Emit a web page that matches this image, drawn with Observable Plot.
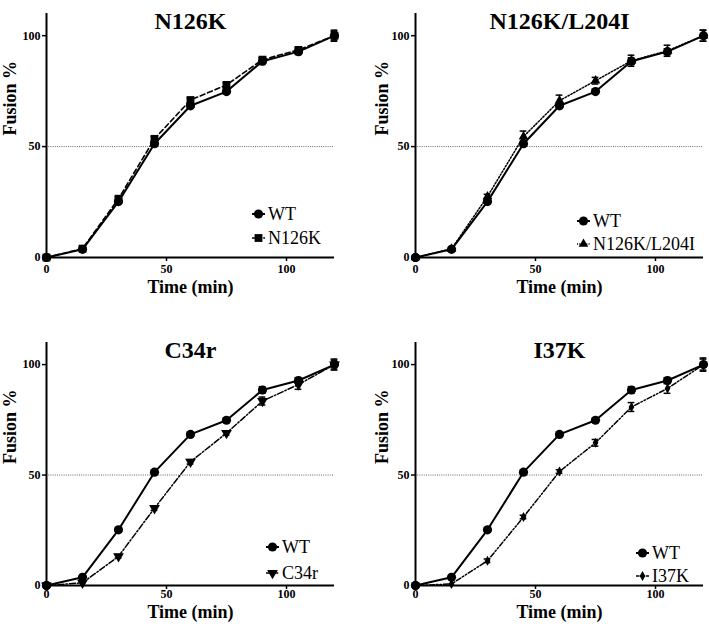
<!DOCTYPE html>
<html>
<head>
<meta charset="utf-8">
<script src="https://cdn.jsdelivr.net/npm/d3@7"></script>
<script src="https://cdn.jsdelivr.net/npm/@observablehq/plot@0.6"></script>
<style>
  body { margin: 0; background: #fff; }
  #wrap { position: relative; width: 709px; height: 631px; background: #fff; font-family: 'Liberation Serif', 'Tinos', 'Times New Roman', 'DejaVu Serif', serif; }
  .panel { position: absolute; font-family: 'Liberation Serif', 'Tinos', 'Times New Roman', 'DejaVu Serif', serif; }
  .panel text { font-family: 'Liberation Serif', 'Tinos', 'Times New Roman', 'DejaVu Serif', serif; }
  .lrow { position: absolute; display: flex; align-items: center; font-size: 18px; line-height: 20px; color: #000; white-space: nowrap; font-family: 'Liberation Serif', 'Tinos', 'Times New Roman', 'DejaVu Serif', serif; }
  .lrow svg { display: block; margin-right: 3px; }
</style>
</head>
<body>
<div id="wrap"></div>
<script>
// ---- data ----
const times = [0, 15, 30, 45, 60, 75, 90, 105, 120];
const wtValues = [0, 3.7, 25.2, 51.3, 68.4, 74.8, 88.5, 92.8, 100];
const wtErrors = [0, 0.4, 0.8, 1, 1, 1, 1.5, 1.3, 2.5];
const n126kValues = [0, 4, 26.5, 53.5, 71, 77.8, 89.2, 93.6, 100];
const n126kErrors = [0, 0.4, 0.8, 1, 1, 1, 1, 1, 2];
const n126kL204iValues = [0, 3.9, 27.5, 54.5, 70.7, 79.7, 88.7, 93.2, 100];
const n126kL204iErrors = [0, 0.4, 1, 2.5, 2.5, 1.5, 2.5, 2.5, 2.5];
const c34rValues = [0, 1.2, 13.2, 35, 56, 69, 83.5, 91, 100];
const c34rErrors = [0, 0.3, 0.8, 1, 1, 1, 1.8, 2.2, 2];
const i37kValues = [0, 0.7, 11.2, 31, 51.6, 64.6, 80.8, 89.2, 100];
const i37kErrors = [0, 0.3, 0.8, 0.8, 0.8, 1.5, 2, 2.2, 3];
const panelTitles = ["N126K", "N126K/L204I", "C34r", "I37K"];
const xTicks = [0, 50, 100];
const yTicks = [0, 50, 100];

const serif = "'Liberation Serif', 'Tinos', 'Times New Roman', 'DejaVu Serif', serif";

// custom downward triangle symbol
const triangleDown = {
  draw(context, size) {
    const y = -Math.sqrt(size / (Math.sqrt(3) * 3));
    context.moveTo(0, -y * 2);
    context.lineTo(-Math.sqrt(3) * y, y);
    context.lineTo(Math.sqrt(3) * y, y);
    context.closePath();
  }
};
const d3Symbols = { circle: d3.symbolCircle, square: d3.symbolSquare, triangle: d3.symbolTriangle, diamond: d3.symbolDiamond };

const wt = { name: "WT", values: wtValues, errors: wtErrors, symbol: "circle", r: 4.6, dash: null, sw: 2 };

const panels = [
  { title: panelTitles[0], mut: { name: "N126K", values: n126kValues, errors: n126kErrors, symbol: "square", r: 4.4, dash: "5,3", sw: 1.6 },
    left: 0, top: 0, width: 354, height: 315, mL: 46, mR: 20, mT: 13, mB: 58, tickPad: 3, xLabDy: 35, yLabDx: -36,
    legend: { x: 252, y: [214, 238] } },
  { title: panelTitles[1], mut: { name: "N126K/L204I", values: n126kL204iValues, errors: n126kL204iErrors, symbol: "triangle", r: 3.6, dash: "1.5,1.8", sw: 1.5 },
    left: 354, top: 0, width: 355, height: 315, mL: 61, mR: 6, mT: 13, mB: 58, tickPad: 3, xLabDy: 35, yLabDx: -33,
    legend: { x: 577, y: [221, 244] } },
  { title: panelTitles[2], mut: { name: "C34r", values: c34rValues, errors: c34rErrors, symbol: triangleDown, r: 4.0, dash: "6,2,1.5,2", sw: 1.5 },
    left: 0, top: 315, width: 354, height: 316, mL: 46, mR: 20, mT: 27, mB: 46, tickPad: 0, xLabDy: 32, yLabDx: -36,
    legend: { x: 266, y: [547, 573] } },
  { title: panelTitles[3], mut: { name: "I37K", values: i37kValues, errors: i37kErrors, symbol: "diamond", r: 3.0, dash: "5,2,1.5,2,1.5,2", sw: 1.5 },
    left: 354, top: 315, width: 355, height: 316, mL: 61, mR: 6, mT: 27, mB: 46, tickPad: 0, xLabDy: 32, yLabDx: -33,
    legend: { x: 636, y: [553, 576] } }
];

function seriesRows(s) {
  return times.map((t, i) => ({ series: s.name, t, v: s.values[i], e: s.errors[i] }));
}

function seriesMarks(s) {
  const rows = seriesRows(s);
  const capHalf = 1.4;
  const eb = rows.filter(d => d.e > 0.6);
  return [
    Plot.line(rows, { x: "t", y: "v", stroke: "black", strokeWidth: s.sw, strokeDasharray: s.dash || undefined }),
    Plot.ruleX(eb, { x: "t", y1: d => d.v - d.e, y2: d => d.v + d.e, stroke: "black", strokeWidth: 1.3 }),
    Plot.ruleY(eb, { y: d => d.v + d.e, x1: d => d.t - capHalf, x2: d => d.t + capHalf, stroke: "black", strokeWidth: 1.5 }),
    Plot.ruleY(eb, { y: d => d.v - d.e, x1: d => d.t - capHalf, x2: d => d.t + capHalf, stroke: "black", strokeWidth: 1.5 }),
    Plot.dot(rows, { x: "t", y: "v", symbol: () => s.symbol, r: s.r, fill: "black", stroke: "none" })
  ];
}

const wrap = document.getElementById("wrap");

for (const p of panels) {
  const chart = Plot.plot({
    width: p.width,
    height: p.height,
    marginLeft: p.mL, marginRight: p.mR, marginTop: p.mT, marginBottom: p.mB,
    style: { fontWeight: "bold", fontSize: "12px", background: "white", overflow: "visible", color: "black" },
    x: { domain: [0, 120] },
    y: { domain: [0, 110] },
    marks: [
      Plot.ruleY([50], { stroke: "#666", strokeWidth: 1, strokeDasharray: "1,1.2" }),
      Plot.axisX({ ticks: xTicks, tickSize: 4, tickPadding: p.tickPad, label: null, strokeWidth: 1.5, fontFamily: serif }),
      Plot.axisY({ ticks: yTicks, tickSize: 4, tickPadding: 2, label: null, strokeWidth: 1.5, fontFamily: serif }),
      ...seriesMarks(p.mut),
      ...seriesMarks(wt),
      Plot.ruleX([0], { y1: 0, y2: 110, stroke: "black", strokeWidth: 2 }),
      Plot.ruleY([0], { x1: 0, x2: 120, stroke: "black", strokeWidth: 2 }),
      Plot.dot([0], { x: 0, y: 0, r: 4.6, fill: "black" }),
      Plot.text([p.title], { frameAnchor: "top", dy: -2, fontSize: 24, fontWeight: "bold", fontFamily: serif }),
      Plot.text(["Time (min)"], { frameAnchor: "bottom", dy: p.xLabDy, fontSize: 18, fontWeight: "bold", fontFamily: serif }),
      Plot.text(["Fusion %"], { frameAnchor: "left", dx: p.yLabDx, rotate: -90, fontSize: 18, fontWeight: "bold", fontFamily: serif })
    ]
  });
  chart.classList.add("panel");
  chart.style.left = p.left + "px";
  chart.style.top = p.top + "px";
  chart.style.fontFamily = serif;
  wrap.appendChild(chart);

  // legend (HTML rows)
  [wt, p.mut].forEach((s, i) => {
    const row = document.createElement("div");
    row.className = "lrow";
    row.style.left = p.legend.x + "px";
    row.style.top = (p.legend.y[i] - 10) + "px";
    const svg = d3.create("svg").attr("width", 13).attr("height", 14);
    svg.append("line").attr("x1", 0).attr("x2", 13).attr("y1", 7).attr("y2", 7)
      .attr("stroke", "black").attr("stroke-width", s.sw)
      .attr("stroke-dasharray", s.dash ? (s.dash.split(",").map(v => +v * 0.7).join(",")) : null);
    const type = typeof s.symbol === "string" ? d3Symbols[s.symbol] : s.symbol;
    svg.append("path").attr("transform", "translate(6.5,7)")
      .attr("d", d3.symbol(type, Math.PI * s.r * s.r)()).attr("fill", "black");
    row.appendChild(svg.node());
    const span = document.createElement("span");
    span.textContent = s.name;
    row.appendChild(span);
    wrap.appendChild(row);
  });
}
</script>
</body>
</html>
